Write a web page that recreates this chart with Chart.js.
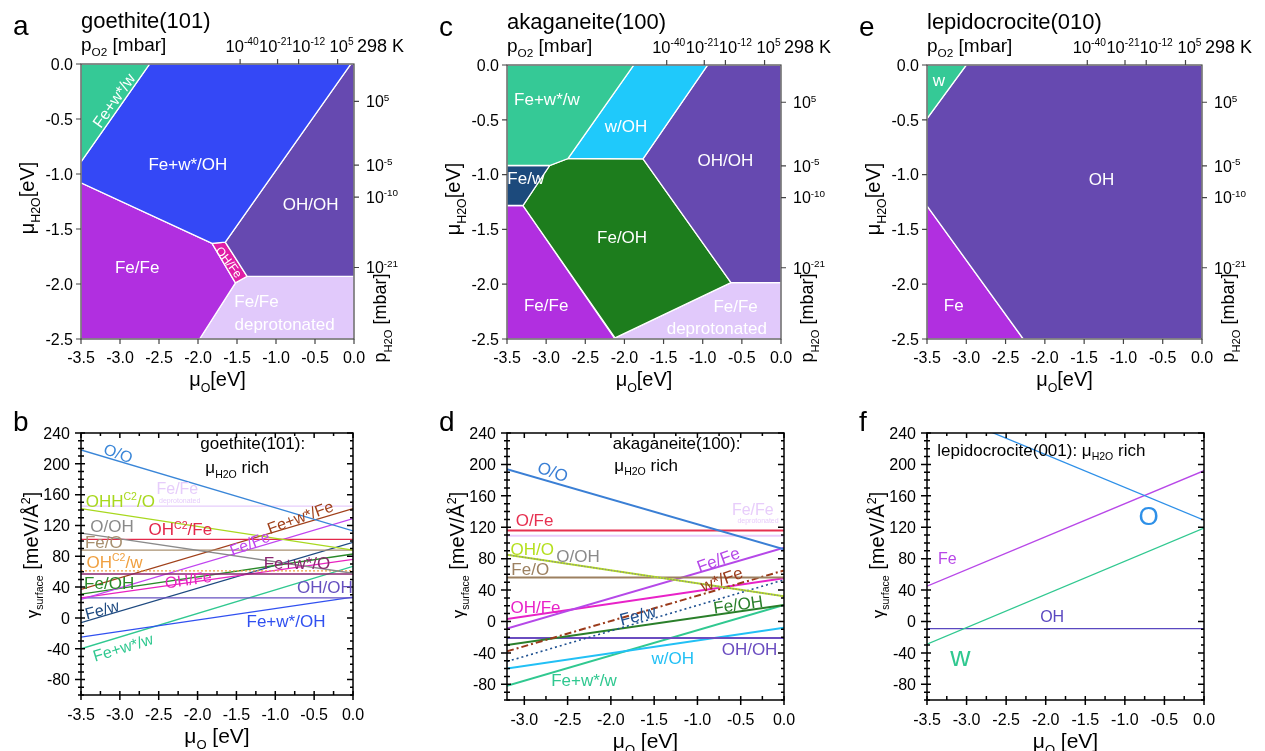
<!DOCTYPE html>
<html>
<head>
<meta charset="utf-8">
<script src="https://cdn.jsdelivr.net/npm/chart.js@4"></script>
<style>
  body { margin: 0; background: #fff; width: 1265px; height: 751px; position: relative; overflow: hidden; }
  canvas { position: absolute; }
</style>
</head>
<body>
<canvas id="pa"></canvas><canvas id="pc"></canvas><canvas id="pe"></canvas>
<canvas id="pb"></canvas><canvas id="pd"></canvas><canvas id="pf"></canvas>
<script>
// ---- phase diagrams, polygon vertices as [muO, muH2O] in eV ----
const goeFeWw   = [[-3.5, 0], [-2.62, 0], [-3.5, -0.89]];
const goeFeWOH  = [[-2.62, 0], [-0.04, 0], [-1.65, -1.62], [-1.82, -1.63], [-3.5, -1.08], [-3.5, -0.89]];
const goeOHOH   = [[-0.04, 0], [0, 0], [0, -1.93], [-1.37, -1.93], [-1.65, -1.62]];
const goeOHFe   = [[-1.82, -1.63], [-1.65, -1.62], [-1.37, -1.93], [-1.52, -1.99]];
const goeFeFe   = [[-3.5, -1.08], [-1.82, -1.63], [-1.52, -1.99], [-1.98, -2.5], [-3.5, -2.5]];
const goeDeprot = [[-1.37, -1.93], [0, -1.93], [0, -2.5], [-1.98, -2.5], [-1.52, -1.99]];

const akaFeWw   = [[-3.5, 0], [-1.88, 0], [-2.72, -0.853], [-2.955, -0.917], [-3.5, -0.917]];
const akaWOH    = [[-1.88, 0], [-0.937, 0], [-1.763, -0.856], [-2.72, -0.853]];
const akaOHOH   = [[-0.937, 0], [0, 0], [0, -1.985], [-0.639, -1.985], [-1.763, -0.856]];
const akaFeW    = [[-3.5, -0.917], [-2.955, -0.917], [-3.296, -1.282], [-3.5, -1.282]];
const akaFeOH   = [[-2.72, -0.853], [-1.763, -0.856], [-0.639, -1.985], [-2.12, -2.49], [-3.296, -1.282], [-2.955, -0.917]];
const akaFeFe   = [[-3.5, -1.282], [-3.296, -1.282], [-2.12, -2.5], [-3.5, -2.5]];
const akaDeprot = [[-0.639, -1.985], [0, -1.985], [0, -2.5], [-2.12, -2.5], [-2.12, -2.49]];

const lepW  = [[-3.5, 0], [-3.0, 0], [-3.5, -0.49]];
const lepOH = [[-3.0, 0], [0, 0], [0, -2.5], [-2.275, -2.5], [-3.5, -1.285], [-3.5, -0.49]];
const lepFe = [[-3.5, -1.285], [-2.275, -2.5], [-3.5, -2.5]];

const phaseXTicks  = [-3.5, -3.0, -2.5, -2.0, -1.5, -1.0, -0.5, 0.0];
const phaseXLabels = ['-3.5', '-3.0', '-2.5', '-2.0', '-1.5', '-1.0', '-0.5', '0.0'];
const phaseYTicks  = [0, -0.5, -1.0, -1.5, -2.0, -2.5];
const phaseYLabels = ['0.0', '-0.5', '-1.0', '-1.5', '-2.0', '-2.5'];
const pO2Ticks   = [-1.46, -0.98, -0.71, -0.21];
const pO2Labels  = ['10^{-40}', '10^{-21}', '10^{-12}', '10^{5}'];
const pH2OTicks  = [-0.34, -0.92, -1.21, -1.85];
const pH2OLabels = ['10^{5}', '10^{-5}', '10^{-10}', '10^{-21}'];

// ---- surface energies (meV/A^2): value at left end and at muO = 0 ----
const goeMuO    = [-3.5, 0];
const goeNames  = ['O/O', 'Fe/Fe deprot', 'OHH/O', 'O/OH', 'OH-C2/Fe', 'Fe/O', 'OH-C2/w', 'Fe+w*/O', 'Fe+w*/Fe', 'Fe/Fe', 'Fe/OH', 'OH/Fe', 'OH/OH', 'Fe/w', 'Fe+w*/OH', 'Fe+w*/w'];
const goeAtMin  = [218, 145, 142, 110, 102, 88, 61, 57, 37, 24, 31, 26, 26, -6, -25, -40];
const goeAtZero = [113, 145, 88, 58, 102, 88, 61, 57, 142, 129, 83, 76, 26, 98, 27, 67];

const akaMuO    = [-3.2, 0];
const akaNames  = ['O/O', 'O/Fe', 'Fe/Fe deprot', 'O/OH', 'OH/O', 'Fe/O', 'Fe/Fe', 'w*/Fe', 'OH/Fe', 'Fe/w', 'Fe/OH', 'OH/OH', 'w/OH', 'Fe+w*/w'];
const akaAtMin  = [194, 116, 109, 85, 85, 56, -9, -38, 3, -51, -30, -21, -60, -82];
const akaAtZero = [92, 116, 109, 32, 32, 56, 94, 65, 55, 53, 21, -21, -8, 21];

const lepMuO    = [-3.5, 0];
const lepNames  = ['O', 'Fe', 'w', 'OH'];
const lepAtMin  = [275, 45, -29, -9];
const lepAtZero = [129, 192, 119, -9];

const gammaTicks  = [-80, -40, 0, 40, 80, 120, 160, 200, 240];
const gammaLabels = ['-80', '-40', '0', '40', '80', '120', '160', '200', '240'];
const akaXTicks   = [-3.0, -2.5, -2.0, -1.5, -1.0, -0.5, 0.0];
const akaXLabels  = ['-3.0', '-2.5', '-2.0', '-1.5', '-1.0', '-0.5', '0.0'];

// ---- styles ----
const FONT = '"Liberation Sans", Arial, Helvetica, sans-serif';
const C = {
  green: '#35c996', blue: '#3448f6', purple: '#6649b0', magenta: '#b12fe0', pink: '#e01ea6',
  lav: '#e1c9fb', cyan: '#1fc9fb', dgreen: '#1d7d1d', dblue: '#1c4a7c'
};
const pO2Shift = [2, -2, 10, 4];   // top labels are packed side by side
const goeColors = ['#3a86d8', '#e6cdfb', '#a8d81e', '#8a8a8a', '#e3284a', '#a89070', '#f0a040', '#8a2670', '#a0401a', '#c044f0', '#2a8a2a', '#e822c0', '#6650c0', '#1e4a80', '#3050f0', '#30c890'];
const goeDash   = { 6: [2, 2] };
const akaColors = ['#3a7fd5', '#e63050', '#e8cdfb', '#8a8a8a', '#b5e01e', '#9c8060', '#b548e8', '#9a3a1a', '#e822c8', '#1e5090', '#2a7f2a', '#6a4cc0', '#22c0f5', '#30c890'];
const akaDash   = { 3: [1.5, 1.5], 7: [7, 3, 2, 3], 9: [2, 3] };
const akaWidth  = { 3: 1.2, 9: 1.6 };
const lepColors = ['#2e90e8', '#b848e8', '#30c890', '#5a48c0'];

// decoration settings per canvas, kept out of chart options
const decoCfg = {};

function parse(str) {
  const parts = []; const re = /([_^])\{([^}]*)\}/g; let last = 0, m;
  while ((m = re.exec(str))) {
    if (m.index > last) parts.push([str.slice(last, m.index), '']);
    parts.push([m[2], m[1] === '_' ? 'sub' : 'sup']);
    last = re.lastIndex;
  }
  if (last < str.length) parts.push([str.slice(last), '']);
  return parts;
}

function rich(ctx, x, y, txt, size, color, align, rot, mid) {
  const parts = typeof txt === 'string' ? parse(txt) : txt;
  ctx.save();
  ctx.translate(x, y);
  if (rot) ctx.rotate(rot * Math.PI / 180);
  ctx.fillStyle = color;
  ctx.textAlign = 'left';
  ctx.textBaseline = 'alphabetic';
  const segs = parts.map(p => {
    const base = p[2] || size;
    const s = p[1] ? base * 0.62 : base;
    ctx.font = s + 'px ' + FONT;
    return { t: p[0], s, w: ctx.measureText(p[0]).width, dy: p[1] === 'sub' ? base * 0.28 : p[1] === 'sup' ? -base * 0.4 : 0 };
  });
  const total = segs.reduce((acc, g) => acc + g.w, 0);
  let cx = align === 'center' ? -total / 2 : align === 'right' ? -total : 0;
  const by = mid ? size * 0.36 : 0;
  segs.forEach(g => { ctx.font = g.s + 'px ' + FONT; ctx.fillText(g.t, cx, by + g.dy); cx += g.w; });
  ctx.restore();
}

const deco = {
  id: 'deco',
  afterDatasetsDraw(chart) {
    const o = decoCfg[chart.canvas.id];
    const ctx = chart.ctx, a = chart.chartArea;
    const X = v => chart.scales.x.getPixelForValue(v), Y = v => chart.scales.y.getPixelForValue(v);
    ctx.save();
    ctx.strokeStyle = o.axisColor; ctx.lineWidth = o.axisWidth;
    ctx.strokeRect(a.left, a.top, a.right - a.left, a.bottom - a.top);
    ctx.beginPath();
    o.ticks.forEach(t => t.values.forEach(v => {
      if (t.side === 'left')   { ctx.moveTo(a.left - t.out, Y(v)); ctx.lineTo(a.left + t.inn, Y(v)); }
      if (t.side === 'right')  { ctx.moveTo(a.right - t.inn, Y(v)); ctx.lineTo(a.right + t.out, Y(v)); }
      if (t.side === 'bottom') { ctx.moveTo(X(v), a.bottom + t.out); ctx.lineTo(X(v), a.bottom - t.inn); }
      if (t.side === 'top')    { ctx.moveTo(X(v), a.top - t.out); ctx.lineTo(X(v), a.top + t.inn); }
    }));
    ctx.stroke();
    o.tickLabels.forEach(t => t.values.forEach((v, i) => {
      const s = t.labels[i], sh = t.offs ? t.offs[i] : 0;
      if (t.side === 'left')   rich(ctx, a.left - t.gap, Y(v), s, t.size, '#000', 'right', 0, true);
      if (t.side === 'right')  rich(ctx, a.right + t.gap, Y(v), s, t.size, '#000', 'left', 0, true);
      if (t.side === 'bottom') rich(ctx, X(v) + sh, a.bottom + t.gap, s, t.size, '#000', 'center');
      if (t.side === 'top')    rich(ctx, X(v) + sh, a.top - t.gap, s, t.size, '#000', 'center');
    }));
    o.texts.forEach(t => rich(ctx, X(t.x), Y(t.y), t.t, t.s, t.c, t.al || 'left', t.rot || 0, true));
    o.titles.forEach(t => {
      const bx = t.rx === 'left' ? a.left : t.rx === 'right' ? a.right : (a.left + a.right) / 2;
      const byy = t.ry === 'top' ? a.top : t.ry === 'bottom' ? a.bottom : (a.top + a.bottom) / 2;
      rich(ctx, bx + t.dx, byy + t.dy, t.t, t.s, '#000', t.al || 'left', t.rot || 0, !!t.mid);
    });
    ctx.restore();
  }
};

function poly(pts, color) {
  const d = pts.concat([pts[0]]).map(p => ({ x: p[0], y: p[1] }));
  return { data: d, showLine: true, fill: 'shape', backgroundColor: color, borderColor: '#ffffff', borderWidth: 1.3, pointRadius: 0 };
}

function lineSet(mu, y0, y1, color, width, dash) {
  return { data: [{ x: mu[0], y: y0 }, { x: mu[1], y: y1 }], showLine: true, fill: false,
    borderColor: color, borderWidth: width, borderDash: dash || [], pointRadius: 0 };
}

function makePanel(id, box, area, xr, yr, datasets, opts) {
  const cv = document.getElementById(id);
  cv.width = box[2]; cv.height = box[3];
  cv.style.left = box[0] + 'px'; cv.style.top = box[1] + 'px';
  decoCfg[id] = opts;
  return new Chart(cv, {
    type: 'scatter',
    data: { datasets },
    options: {
      responsive: false, animation: false, devicePixelRatio: 1,
      layout: { padding: { left: area[0] - box[0], top: area[1] - box[1], right: box[0] + box[2] - area[2], bottom: box[1] + box[3] - area[3] } },
      scales: {
        x: { type: 'linear', min: xr[0], max: xr[1], display: false },
        y: { type: 'linear', min: yr[0], max: yr[1], display: false }
      },
      elements: { line: { tension: 0 }, point: { radius: 0 } },
      plugins: { legend: { display: false }, tooltip: { enabled: false } }
    },
    plugins: [deco]
  });
}

function topDeco(letter, title, texts) {
  return {
    axisColor: '#444', axisWidth: 1.2,
    ticks: [
      { side: 'left', values: phaseYTicks, out: 5, inn: 0 },
      { side: 'bottom', values: phaseXTicks, out: 5, inn: 0 },
      { side: 'top', values: pO2Ticks, out: 5, inn: 0 },
      { side: 'right', values: pH2OTicks, out: 5, inn: 0 }
    ],
    tickLabels: [
      { side: 'left', values: phaseYTicks, labels: phaseYLabels, size: 16, gap: 8 },
      { side: 'bottom', values: phaseXTicks, labels: phaseXLabels, size: 16, gap: 24 },
      { side: 'top', values: pO2Ticks, labels: pO2Labels, size: 16.5, gap: 12, offs: pO2Shift },
      { side: 'right', values: pH2OTicks, labels: pH2OLabels, size: 16, gap: 12 }
    ],
    texts,
    titles: [
      { t: letter, s: 28, rx: 'left', dx: -68, ry: 'top', dy: -29 },
      { t: title, s: 22, rx: 'left', dx: 0, ry: 'top', dy: -36 },
      { t: 'p_{O2} [mbar]', s: 19, rx: 'left', dx: 0, ry: 'top', dy: -13 },
      { t: '298 K', s: 18, rx: 'right', dx: 3, ry: 'top', dy: -12 },
      { t: 'μ_{H2O}[eV]', s: 20, rx: 'left', dx: -54, ry: 'top', dy: 134, al: 'center', rot: -90, mid: true },
      { t: 'μ_{O}[eV]', s: 20, rx: 'cx', dx: 0, ry: 'bottom', dy: 47, al: 'center' },
      { t: 'p_{H2O} [mbar]', s: 18, rx: 'right', dx: 26, ry: 'bottom', dy: -21, al: 'center', rot: -90, mid: true }
    ]
  };
}

function bottomDeco(letter, xTicks, xLabels, texts) {
  const yMinor = [];
  for (let v = -100; v <= 240; v += 10) if (gammaTicks.indexOf(v) < 0) yMinor.push(v);
  const xMinor = xTicks.slice(0, -1).map(v => v + 0.25);
  return {
    axisColor: '#000', axisWidth: 1.5,
    ticks: [
      { side: 'left', values: gammaTicks, out: 6, inn: 4 },
      { side: 'left', values: yMinor, out: 3, inn: 3 },
      { side: 'right', values: gammaTicks, out: 0, inn: 6 },
      { side: 'right', values: yMinor, out: 0, inn: 3 },
      { side: 'bottom', values: xTicks, out: 5, inn: 4 },
      { side: 'bottom', values: xMinor, out: 0, inn: 4 },
      { side: 'top', values: xTicks, out: 0, inn: 5 },
      { side: 'top', values: xMinor, out: 0, inn: 3 }
    ],
    tickLabels: [
      { side: 'left', values: gammaTicks, labels: gammaLabels, size: 16, gap: 11 },
      { side: 'bottom', values: xTicks, labels: xLabels, size: 16, gap: 25 }
    ],
    texts,
    titles: [
      { t: letter, s: 28, rx: 'left', dx: -68, ry: 'top', dy: -2 },
      { t: [['γ', '', 17], ['surface', 'sub', 17], [' [meV/Å', '', 20], ['2', 'sup', 20], [']', '', 20]], s: 20, rx: 'left', dx: -50, ry: 'top', dy: 122, al: 'center', rot: -90, mid: true },
      { t: 'μ_{O} [eV]', s: 21, rx: 'cx', dx: 0, ry: 'bottom', dy: 48, al: 'center' }
    ]
  };
}

// ---- panel a ----
makePanel('pa', [0, 0, 422, 395], [81, 64, 354, 339], [-3.5, 0], [-2.5, 0], [
  poly(goeFeWw, C.green), poly(goeFeWOH, C.blue), poly(goeOHOH, C.purple),
  poly(goeOHFe, C.pink), poly(goeFeFe, C.magenta), poly(goeDeprot, C.lav)
], topDeco('a', 'goethite(101)', [
  { x: -2.13, y: -0.91, t: 'Fe+w*/OH', s: 17, c: '#fff', al: 'center' },
  { x: -0.555, y: -1.27, t: 'OH/OH', s: 17, c: '#fff', al: 'center' },
  { x: -2.78, y: -1.84, t: 'Fe/Fe', s: 17, c: '#fff', al: 'center' },
  { x: -1.25, y: -2.15, t: 'Fe/Fe', s: 17, c: '#fff', al: 'center' },
  { x: -0.89, y: -2.36, t: 'deprotonated', s: 17, c: '#fff', al: 'center' },
  { x: -3.08, y: -0.33, t: 'Fe+w*/w', s: 16, c: '#fff', al: 'center', rot: -55 },
  { x: -1.60, y: -1.80, t: 'OH/Fe', s: 12, c: '#fff', al: 'center', rot: 53 }
]));

// ---- panel c ----
makePanel('pc', [422, 0, 425, 395], [507, 65, 781, 339], [-3.5, 0], [-2.5, 0], [
  poly(akaFeWw, C.green), poly(akaWOH, C.cyan), poly(akaOHOH, C.purple), poly(akaFeW, C.dblue),
  poly(akaFeOH, C.dgreen), poly(akaFeFe, C.magenta), poly(akaDeprot, C.lav)
], topDeco('c', 'akaganeite(100)', [
  { x: -2.99, y: -0.31, t: 'Fe+w*/w', s: 17, c: '#fff', al: 'center' },
  { x: -1.98, y: -0.56, t: 'w/OH', s: 17, c: '#fff', al: 'center' },
  { x: -0.71, y: -0.87, t: 'OH/OH', s: 17, c: '#fff', al: 'center' },
  { x: -3.26, y: -1.03, t: 'Fe/w', s: 17, c: '#fff', al: 'center' },
  { x: -2.03, y: -1.57, t: 'Fe/OH', s: 17, c: '#fff', al: 'center' },
  { x: -3.00, y: -2.19, t: 'Fe/Fe', s: 17, c: '#fff', al: 'center' },
  { x: -0.58, y: -2.20, t: 'Fe/Fe', s: 17, c: '#fff', al: 'center' },
  { x: -0.82, y: -2.40, t: 'deprotonated', s: 17, c: '#fff', al: 'center' }
]));

// ---- panel e ----
makePanel('pe', [847, 0, 418, 395], [927, 65, 1202, 339], [-3.5, 0], [-2.5, 0], [
  poly(lepW, C.green), poly(lepOH, C.purple), poly(lepFe, C.magenta)
], topDeco('e', 'lepidocrocite(010)', [
  { x: -3.35, y: -0.14, t: 'w', s: 17, c: '#fff', al: 'center' },
  { x: -1.28, y: -1.04, t: 'OH', s: 17, c: '#fff', al: 'center' },
  { x: -3.16, y: -2.19, t: 'Fe', s: 17, c: '#fff', al: 'center' }
]));

// ---- panel b ----
makePanel('pb', [0, 395, 422, 356], [81, 433, 353, 695], [-3.5, 0], [-100, 240],
  goeNames.map((n, i) => lineSet(goeMuO, goeAtMin[i], goeAtZero[i], goeColors[i], 1.3, goeDash[i])),
  bottomDeco('b', phaseXTicks, phaseXLabels, [
    { x: -3.02, y: 214, t: 'O/O', s: 16, c: goeColors[0], al: 'center', rot: 20 },
    { x: -1.29, y: 227, t: 'goethite(101):', s: 17, c: '#000', al: 'center' },
    { x: -1.90, y: 196, t: 'μ_{H2O} rich', s: 17, c: '#000' },
    { x: -2.26, y: 168, t: 'Fe/Fe', s: 16, c: goeColors[1], al: 'center' },
    { x: -2.23, y: 152, t: 'deprotonated', s: 7, c: goeColors[1], al: 'center' },
    { x: -3.44, y: 152, t: 'OHH^{C2}/O', s: 17, c: goeColors[2] },
    { x: -3.38, y: 119, t: 'O/OH', s: 17, c: goeColors[3] },
    { x: -2.63, y: 115, t: 'OH^{C2}/Fe', s: 17, c: goeColors[4] },
    { x: -3.45, y: 99, t: 'Fe/O', s: 17, c: goeColors[5] },
    { x: -1.33, y: 97, t: 'Fe/Fe', s: 16, c: goeColors[9], al: 'center', rot: -22 },
    { x: -0.68, y: 131, t: 'Fe+w*/Fe', s: 16, c: goeColors[8], al: 'center', rot: -20 },
    { x: -3.43, y: 73, t: 'OH^{C2}/w', s: 17, c: goeColors[6] },
    { x: -1.15, y: 72, t: 'Fe+w*/O', s: 17, c: goeColors[7] },
    { x: -3.46, y: 45, t: 'Fe/OH', s: 17, c: goeColors[10] },
    { x: -2.12, y: 50, t: 'OH/Fe', s: 16, c: goeColors[11], al: 'center', rot: -8 },
    { x: -0.72, y: 40, t: 'OH/OH', s: 17, c: goeColors[12] },
    { x: -3.23, y: 11, t: 'Fe/w', s: 16, c: goeColors[13], al: 'center', rot: -15 },
    { x: -1.37, y: -4, t: 'Fe+w*/OH', s: 17, c: goeColors[14] },
    { x: -2.96, y: -38, t: 'Fe+w*/w', s: 16, c: goeColors[15], al: 'center', rot: -17 }
  ]));

// ---- panel d ----
makePanel('pd', [422, 395, 425, 356], [507, 433, 784, 700], [-3.2, 0], [-100, 240],
  akaNames.map((n, i) => lineSet(akaMuO, akaAtMin[i], akaAtZero[i], akaColors[i], akaWidth[i] || 2, akaDash[i])),
  bottomDeco('d', akaXTicks, akaXLabels, [
    { x: -2.67, y: 191, t: 'O/O', s: 17, c: akaColors[0], al: 'center', rot: 20 },
    { x: -1.24, y: 228, t: 'akaganeite(100):', s: 17, c: '#000', al: 'center' },
    { x: -1.96, y: 200, t: 'μ_{H2O} rich', s: 17, c: '#000' },
    { x: -0.36, y: 143, t: 'Fe/Fe', s: 16, c: akaColors[2], al: 'center' },
    { x: -0.30, y: 128, t: 'deprotonated', s: 7, c: akaColors[2], al: 'center' },
    { x: -3.10, y: 129, t: 'O/Fe', s: 17, c: akaColors[1] },
    { x: -3.16, y: 93, t: 'OH/O', s: 17, c: akaColors[4] },
    { x: -2.63, y: 84, t: 'O/OH', s: 17, c: akaColors[3] },
    { x: -3.15, y: 67, t: 'Fe/O', s: 17, c: akaColors[5] },
    { x: -0.76, y: 79, t: 'Fe/Fe', s: 17, c: akaColors[6], al: 'center', rot: -20 },
    { x: -0.72, y: 54, t: 'w*/Fe', s: 17, c: akaColors[7], al: 'center', rot: -20 },
    { x: -3.16, y: 18, t: 'OH/Fe', s: 17, c: akaColors[8] },
    { x: -1.69, y: 8, t: 'Fe/w', s: 17, c: akaColors[9], al: 'center', rot: -15 },
    { x: -0.53, y: 22, t: 'Fe/OH', s: 17, c: akaColors[10], al: 'center', rot: -8 },
    { x: -0.72, y: -35, t: 'OH/OH', s: 17, c: akaColors[11] },
    { x: -1.53, y: -46, t: 'w/OH', s: 17, c: akaColors[12] },
    { x: -2.69, y: -75, t: 'Fe+w*/w', s: 17, c: akaColors[13] }
  ]));

// ---- panel f ----
makePanel('pf', [847, 395, 418, 356], [927, 433, 1204, 700], [-3.5, 0], [-100, 240],
  lepNames.map((n, i) => lineSet(lepMuO, lepAtMin[i], lepAtZero[i], lepColors[i], 1.3)),
  bottomDeco('f', phaseXTicks, phaseXLabels, [
    { x: -3.37, y: 219, t: 'lepidocrocite(001): μ_{H2O} rich', s: 17, c: '#000' },
    { x: -0.70, y: 135, t: 'O', s: 26, c: lepColors[0], al: 'center' },
    { x: -3.36, y: 80, t: 'Fe', s: 16, c: lepColors[1] },
    { x: -2.07, y: 7, t: 'OH', s: 16, c: lepColors[3] },
    { x: -3.08, y: -44, t: 'w', s: 28, c: lepColors[2], al: 'center' }
  ]));
</script>
</body>
</html>
